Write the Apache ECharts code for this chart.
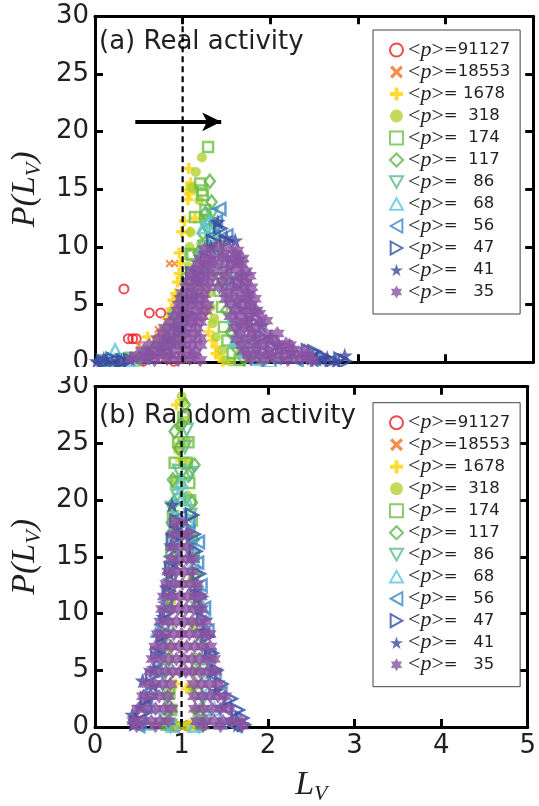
<!DOCTYPE html>
<html>
<head>
<meta charset="utf-8">
<script src="https://cdn.jsdelivr.net/npm/echarts@6/dist/echarts.min.js"></script>
<style>
html,body{margin:0;padding:0;background:#fff;}
#chart{width:539px;height:806px;}
</style>
</head>
<body>
<div id="chart"></div>
<script>
// ---------- legend labels (series names) ----------
const seriesNames = ['=91127', '=18553', '= 1678', '=  318', '=  174', '=  117', '=   86', '=   68', '=   56', '=   47', '=   41', '=   35'];
const panelTitles = ['(a) Real activity', '(b) Random activity'];

// ---------- panel (a): real activity, [L_V, P(L_V)] ----------
const realP91127 = [[0.33,6.36],[0.62,4.28],[0.75,4.28],[0.38,2.05],[0.43,2.05],[0.47,2.05],[0.72,2.05],[0.15,0.05],[0.55,0.1],[0.9,0.1]];
const realP18553 = [[0.85,8.56],[0.91,8.56],[0.72,2.84],[0.50,1.47],[0.66,0.9],[0.3,0.1],[0.82,0.3],[1.02,0.2]];
const realP1678 = [[1.07,16.8],[1.09,15.55],[1.05,14.98],[1.08,14.6],[1.06,14.1],[1.02,12.25],[0.99,11.3],[1.08,11.3],[0.96,9.48],[0.98,8.6],[0.96,7.69],[0.94,6.96],[0.92,5.96],[0.89,5.38],[0.87,4.66],[0.83,3.79],[0.80,3.0],[0.60,2.2],[0.76,2.3],[0.70,1.3],[0.50,0.5],[0.3,0.2],
  [1.14,12.5],[1.18,9.5],[1.22,6.5],[1.26,4.2],[1.30,2.63],[1.34,1.9],[1.38,1.33],[1.38,0.75],[1.42,0.46],[1.46,0.1]];
const realP318 = [[1.22,17.75],[1.15,16.5],[1.1,15.15],[1.13,15.06],[1.19,14.05],[1.09,11.3],[1.21,10.3],[1.08,10.0],[1.07,8.27],[1.02,7.0],[0.98,5.66],[0.87,4.28],[0.82,3.0],[0.72,1.8],[0.55,0.8],[0.35,0.2],
  [1.24,12.5],[1.27,8.5],[1.30,6.0],[1.32,4.8],[1.36,3.79],[1.34,3.36],[1.38,2.2],[1.45,1.04],[1.49,0.17],[1.55,0.05]];
const realP174 = [[1.29,18.67],[1.2,15.5],[1.22,14.9],[1.23,14.5],[1.26,13.2],[1.14,12.6],[1.28,12.3],[1.11,9.28],[1.09,9.4],[1.05,7.2],[1.0,5.5],[0.95,3.5],[0.85,2.0],[0.7,1.0],[0.4,0.4],[0.2,0.1],
  [1.33,10.5],[1.38,8.0],[1.42,6.2],[1.45,4.8],[1.47,3.06],[1.51,1.9],[1.57,0.8],[1.65,0.2]];
const realP117 = [[1.31,15.7],[1.33,13.9],[1.26,12.9],[1.23,11.2],[1.18,9.5],[1.15,8.0],[1.1,6.0],[1.05,4.0],[0.95,2.5],[0.8,1.0],[0.5,0.3],
  [1.36,12.0],[1.4,10.0],[1.45,7.0],[1.5,4.5],[1.55,2.6],[1.62,1.2],[1.7,0.3]];
const realP86 = [[1.33,12.8],[1.28,11.5],[1.25,10.0],[1.18,7.5],[1.1,5.0],[1.0,3.0],[0.85,1.5],[0.6,0.5],[0.3,0.2],[0.1,0.1],
  [1.38,11.8],[1.42,10.0],[1.5,7.0],[1.55,5.0],[1.6,3.0],[1.68,1.5],[1.78,0.5],[1.9,0.1]];
const realP68 = [[1.24,11.7],[1.3,12.2],[1.21,9.57],[1.15,7.8],[1.08,6.0],[0.94,4.36],[0.85,2.78],[0.75,1.6],[0.55,0.6],[0.23,1.04],[0.15,0.2],[0.4,0.15],
  [1.36,11.0],[1.45,9.0],[1.52,6.5],[1.58,4.0],[1.6,1.9],[1.64,2.2],[1.72,1.0],[1.85,0.3],[2.0,0.1]];
const realP56 = [[1.42,13.3],[1.38,12.2],[1.35,11.0],[1.3,9.5],[1.22,7.5],[1.15,5.5],[1.07,3.7],[0.95,2.0],[0.8,1.0],[0.55,0.4],[0.2,0.2],[0.05,0.1],
  [1.5,11.0],[1.55,9.0],[1.6,7.0],[1.66,5.0],[1.72,3.2],[1.8,1.8],[1.9,0.9],[2.05,0.4],[2.3,0.2],[2.5,0.3]];
const realP47 = [[1.43,11.6],[1.35,10.5],[1.28,9.0],[1.2,7.5],[1.11,7.7],[1.12,5.8],[1.05,4.2],[0.97,2.8],[0.85,1.5],[0.65,0.6],[0.4,0.2],[0.1,0.05],[0.2,0.3],[0.32,0.1],
  [1.5,10.5],[1.58,8.5],[1.65,6.8],[1.72,5.0],[1.8,3.5],[1.9,2.2],[2.02,1.3],[2.2,0.7],[2.43,1.04],[2.5,0.95],[2.5,0.4],[2.6,0.5],[2.7,0.15],[2.8,0.3],[2.85,0.1]];
const realP41 = [[1.4,12.17],[1.6,10.58],[1.32,10.0],[1.25,8.5],[1.18,7.0],[1.1,5.5],[1.02,4.0],[0.95,3.0],[0.85,2.0],[0.75,1.2],[0.6,0.6],[0.4,0.3],[0.2,0.1],[0.02,0.1],[0.1,0.3],[0.3,0.1],
  [1.5,10.8],[1.65,9.0],[1.7,7.5],[1.75,6.0],[1.82,4.5],[1.9,3.2],[2.0,2.2],[2.1,1.5],[2.25,0.9],[2.4,0.5],[2.5,0.15],[2.6,0.3],[2.65,0.4],[2.75,0.1],[2.85,0.6]];
const realP35 = [[1.25,9.8],[1.4,10.1],[1.52,9.9],[1.62,9.7],
  [1.3,9.4],[1.46,9.4],[1.6,9.4],
  [1.2,9.0],[1.32,8.9],[1.45,9.1],[1.58,8.9],[1.68,9.0],
  [1.18,8.5],[1.3,8.5],[1.42,8.5],[1.56,8.5],[1.67,8.5],
  [1.12,8.0],[1.24,8.1],[1.36,7.9],[1.5,8.0],[1.62,8.1],[1.72,7.9],
  [1.1,7.5],[1.22,7.5],[1.34,7.5],[1.5,7.5],[1.66,7.5],[1.76,7.5],
  [1.06,7.0],[1.18,7.1],[1.3,6.9],[1.45,7.0],[1.6,7.1],[1.72,6.9],
  [1.04,6.5],[1.16,6.5],[1.28,6.5],[1.42,6.5],[1.56,6.5],[1.68,6.5],[1.78,6.5],
  [1.0,6.0],[1.12,6.1],[1.24,5.9],[1.5,6.0],[1.62,6.1],[1.75,5.9],
  [0.98,5.5],[1.1,5.5],[1.22,5.5],[1.5,5.5],[1.62,5.5],[1.72,5.5],[1.82,5.5],
  [0.96,5.0],[1.06,5.1],[1.18,4.9],[1.28,5.0],[1.55,5.1],[1.67,4.9],[1.78,5.0],
  [0.94,4.5],[1.04,4.5],[1.16,4.5],[1.26,4.5],[1.6,4.5],[1.72,4.5],[1.84,4.5],
  [0.9,4.0],[1.0,4.1],[1.12,3.9],[1.22,4.0],[1.55,4.0],[1.66,4.1],[1.76,3.9],[1.87,4.2],
  [0.86,3.5],[0.98,3.5],[1.1,3.5],[1.2,3.5],[1.62,3.5],[1.74,3.5],[1.88,3.5],
  [0.8,3.0],[0.92,3.1],[1.04,2.9],[1.16,3.0],[1.6,3.0],[1.7,3.1],[1.82,2.9],[1.95,3.6],
  [0.78,2.5],[0.9,2.5],[1.02,2.5],[1.14,2.5],[1.66,2.5],[1.8,2.5],[1.95,2.5],[2.08,2.5],
  [0.72,2.0],[0.84,2.1],[0.96,1.9],[1.08,2.0],[1.2,2.1],[1.62,2.0],[1.75,2.1],[1.88,1.9],[2.02,2.0],[2.18,1.6],
  [0.62,1.5],[0.74,1.5],[0.86,1.5],[0.98,1.5],[1.1,1.5],[1.2,1.5],[1.68,1.5],[1.8,1.5],[1.94,1.5],[2.08,1.5],[2.22,1.5],
  [0.55,1.0],[0.66,1.1],[0.78,0.9],[0.9,1.0],[1.02,1.1],[1.14,0.9],[1.7,1.0],[1.84,1.1],[1.98,0.9],[2.12,1.0],[2.26,1.1],[2.39,1.0],
  [0.48,0.6],[0.6,0.6],[0.72,0.6],[0.86,0.6],[1.0,0.6],[1.12,0.6],[1.75,0.6],[1.88,0.6],[2.02,0.6],[2.16,0.6],[2.3,0.6],[2.44,0.6],
  [0.42,0.3],[0.55,0.3],[0.68,0.2],[0.82,0.3],[0.95,0.2],[1.08,0.3],[1.2,0.2],[1.78,0.3],[1.92,0.2],[2.06,0.3],[2.2,0.2],[2.34,0.3],[2.48,0.2]];

// ---------- panel (b): random activity, [L_V, P(L_V)] ----------
const randP91127 = [[0.89,18.0],[0.91,0.1],[0.95,0.05],[1.06,0.1]];
const randP18553 = [[0.93,0.1],[1.08,0.05]];
const randP1678 = [[0.94,28.4],[0.97,25.0],[0.99,23.5],[0.93,0.2],[0.88,0.1],[1.08,0.2],[1.12,0.1],[1.15,0.25],[0.93,3.8],[1.1,3.6],[1.06,3.4]];
const randP318 = [[1.0,29.15],[1.02,28.6],[1.04,27.0],[0.98,26.5],[1.05,25.2],[0.96,24.4],[1.06,23.4],[0.94,21.8],[1.07,20.4],[0.92,18.5],[1.1,17.0],[0.9,15.0],[1.12,13.0],[0.88,11.0],[1.14,9.0],[0.86,7.0],[1.15,5.0],[0.87,3.0],[1.13,3.4],[0.89,1.5],[1.16,1.5],[0.85,0.3],[1.18,0.3],[0.95,0.1],[1.05,0.1]];
const randP174 = [[0.96,25.1],[1.08,25.1],[0.92,23.3],[1.06,23.3],[0.94,21.6],[1.09,21.5],[0.98,20.1],[1.1,20.0],[1.02,27.3],[0.9,18.6],[1.12,18.2],[0.88,15.5],[1.14,15.0],[0.86,12.0],[1.16,12.0],[0.84,9.0],[1.18,9.0],[0.83,6.0],[1.2,6.0],[0.86,3.0],[1.18,3.0],[0.88,1.5],[1.2,1.2],[0.83,0.2],[1.22,0.2]];
const randP117 = [[0.92,26.06],[1.15,23.1],[1.04,28.4],[1.0,26.7],[0.97,24.6],[1.08,22.2],[0.9,21.8],[1.12,19.8],[0.91,19.8],[0.88,17.0],[1.14,16.5],[0.86,13.5],[1.16,13.5],[0.84,10.5],[1.2,10.5],[0.82,7.5],[1.22,7.5],[0.84,4.5],[1.2,4.5],[0.86,1.8],[1.22,1.5],[0.82,0.3],[1.25,0.3]];
const randP86 = [[1.04,24.7],[0.89,19.3],[1.06,26.2],[0.97,22.6],[1.1,22.4],[0.95,20.4],[1.1,18.7],[0.9,17.5],[1.12,16.0],[0.87,14.0],[1.15,13.0],[0.85,11.0],[1.18,10.5],[0.82,8.0],[1.22,8.0],[0.8,5.0],[1.24,5.0],[0.83,2.5],[1.25,2.5],[0.82,0.6],[1.28,0.5],[0.87,0.1],[1.2,0.1]];
const randP68 = [[1.0,21.6],[0.96,20.3],[1.05,20.1],[0.93,18.5],[1.08,18.2],[0.9,16.5],[1.12,16.0],[1.15,14.5],[0.87,14.2],[0.84,12.0],[1.2,12.0],[1.26,10.25],[0.8,10.0],[0.72,8.5],[1.28,8.5],[0.75,6.8],[1.3,6.5],[0.7,5.0],[1.35,4.8],[0.74,3.4],[1.3,3.0],[0.65,1.8],[1.38,1.6],[0.6,0.3],[1.45,0.4],[0.9,0.1],[1.15,0.1]];
const randP56 = [[0.98,18.5],[1.08,18.0],[0.92,17.0],[1.19,16.3],[0.88,15.0],[1.18,14.5],[0.86,13.0],[1.22,12.5],[0.82,11.0],[1.26,10.5],[0.78,9.0],[1.3,8.5],[0.74,7.0],[1.32,6.25],[0.7,5.0],[1.38,4.5],[0.64,3.2],[1.45,3.0],[0.58,1.8],[1.5,1.7],[0.52,0.6],[1.58,0.6],[0.5,0.1],[1.62,0.1]];
const randP47 = [[1.12,18.7],[0.94,18.2],[1.14,17.0],[0.9,16.5],[1.16,15.5],[0.88,14.0],[1.2,13.5],[0.85,12.0],[1.22,11.5],[0.82,10.0],[1.25,9.5],[1.3,8.0],[0.78,8.0],[1.35,6.5],[0.72,6.5],[1.4,5.0],[0.66,4.5],[1.46,3.8],[1.57,2.5],[0.6,2.5],[1.65,1.5],[0.55,1.2],[1.7,0.8],[0.48,0.3],[1.72,0.2]];
const randP41 = [[0.89,19.6],[0.83,12.3],[0.79,9.7],[0.67,3.67],[0.55,4.1],[0.46,0.8],[0.43,1.1],[0.95,17.5],[1.05,17.0],[0.88,16.0],[0.92,14.5],[1.1,15.0],[0.86,13.5],[1.15,12.0],[1.2,10.5],[0.76,8.0],[1.25,8.5],[0.72,6.5],[1.3,6.8],[0.68,5.2],[1.35,5.0],[0.6,2.5],[1.4,3.2],[0.52,1.8],[1.48,1.8],[0.45,0.3],[1.58,0.6],[1.65,0.2]];
const randP35 = [[0.93,18.1],[1.01,18.1],
  [0.91,17.0],[1.0,17.0],[1.07,17.0],
  [0.89,15.9],[0.98,15.9],[1.07,15.9],
  [0.88,14.8],[0.97,14.8],[1.06,14.8],[1.13,14.8],
  [0.85,13.7],[0.94,13.7],[1.03,13.7],[1.12,13.7],
  [0.83,12.6],[0.92,12.6],[1.01,12.6],[1.1,12.6],[1.18,12.6],
  [0.8,11.5],[0.89,11.5],[0.98,11.5],[1.07,11.5],[1.16,11.5],[1.22,11.5],
  [0.78,10.4],[0.87,10.4],[0.96,10.4],[1.05,10.4],[1.14,10.4],[1.23,10.4],
  [0.76,9.3],[0.85,9.3],[0.94,9.3],[1.03,9.3],[1.12,9.3],[1.21,9.3],[1.28,9.3],
  [0.73,8.2],[0.82,8.2],[0.91,8.2],[1.0,8.2],[1.09,8.2],[1.18,8.2],[1.27,8.2],[1.32,8.2],
  [0.7,7.1],[0.79,7.1],[0.88,7.1],[0.97,7.1],[1.06,7.1],[1.15,7.1],[1.24,7.1],[1.33,7.1],
  [0.67,6.0],[0.76,6.0],[0.85,6.0],[0.94,6.0],[1.03,6.0],[1.12,6.0],[1.21,6.0],[1.3,6.0],[1.37,6.0],
  [0.64,4.9],[0.73,4.9],[0.82,4.9],[0.9,4.9],[0.98,4.9],[1.05,4.9],[1.12,4.9],[1.21,4.9],[1.3,4.9],[1.39,4.9],
  [0.6,3.8],[0.69,3.8],[0.78,3.8],[0.87,3.8],[1.14,3.8],[1.23,3.8],[1.32,3.8],[1.42,3.8],
  [0.56,2.7],[0.65,2.7],[0.74,2.7],[0.84,2.7],[1.15,2.7],[1.24,2.7],[1.33,2.7],[1.42,2.7],[1.5,2.7],
  [0.5,1.6],[0.6,1.6],[0.7,1.6],[0.8,1.6],[0.88,1.6],[1.16,1.6],[1.25,1.6],[1.35,1.6],[1.45,1.6],[1.55,1.6],
  [0.45,0.5],[0.55,0.5],[0.65,0.5],[0.75,0.5],[0.85,0.5],[1.18,0.5],[1.28,0.5],[1.38,0.5],[1.48,0.5],[1.58,0.5],[1.68,0.5],
  [0.48,0.1],[0.7,0.1],[1.25,0.1],[1.45,0.1],[1.7,0.1]];

const realData = [realP91127, realP18553, realP1678, realP318, realP174, realP117, realP86, realP68, realP56, realP47, realP41, realP35];
const randData = [randP91127, randP18553, randP1678, randP318, randP174, randP117, randP86, randP68, randP56, randP47, randP41, randP35];

// dashed reference line and arrow (in data units)
const refLineX = [[1, 0], [1, 30]];
const arrowFrom = [0.46, 20.85];
const arrowTo = [1.44, 20.85];

// ---------- marker styles ----------
const PLUS = 'path://M3.5,0H6.5V3.5H10V6.5H6.5V10H3.5V6.5H0V3.5H3.5Z';
const CROSS = 'path://M1.8,0L5,3.2L8.2,0L10,1.8L6.8,5L10,8.2L8.2,10L5,6.8L1.8,10L0,8.2L3.2,5L0,1.8Z';
const TRI_UP = 'path://M5,0L10,9L0,9Z';
const TRI_DOWN = 'path://M0,0L10,0L5,9Z';
const TRI_LEFT = 'path://M0,5L9,0L9,10Z';
const TRI_RIGHT = 'path://M0,0L9,5L0,10Z';
const STAR5 = 'path://M10,0L12.25,6.91L19.51,6.91L13.63,11.18L15.88,18.09L10,13.82L4.12,18.09L6.37,11.18L0.49,6.91L7.75,6.91Z';
const HEX = 'path://M10,0L12.89,5L18.66,5L15.77,10L18.66,15L12.89,15L10,20L7.11,15L1.34,15L4.23,10L1.34,5L7.11,5Z';
const styleDefs = [
  {symbol: 'circle', size: 9, hollow: true, bw: 2, color: '#ec1c24'},
  {symbol: CROSS, size: 8, color: '#f37021'},
  {symbol: PLUS, size: 11, color: '#ffd200'},
  {symbol: 'circle', size: 10, color: '#b3d235'},
  {symbol: 'rect', size: 10, hollow: true, bw: 2.5, color: '#6fbf44'},
  {symbol: 'diamond', size: [10, 13], hollow: true, bw: 2.5, color: '#5cb547'},
  {symbol: TRI_DOWN, size: 12, hollow: true, bw: 2.5, color: '#5ab98a'},
  {symbol: TRI_UP, size: 12, hollow: true, bw: 2.5, color: '#5cc6dc'},
  {symbol: TRI_LEFT, size: 12, hollow: true, bw: 2.5, color: '#3b86c6'},
  {symbol: TRI_RIGHT, size: 12, hollow: true, bw: 2.5, color: '#2f4f9f'},
  {symbol: STAR5, size: 16, color: '#3f4aa0'},
  {symbol: HEX, size: 15, color: '#8b52a1'}
];

const TXT = '#231f20';
function mkScatter(name, data, st, xi, yi) {
  return {
    type: 'scatter', name: name, data: data,
    xAxisIndex: xi, yAxisIndex: yi,
    symbol: st.symbol, symbolSize: st.size,
    itemStyle: st.hollow ? {color: 'rgba(255,255,255,0)', borderColor: st.color, borderWidth: st.bw}
                         : {color: st.color, borderWidth: 0},
    emphasis: {disabled: true}, silent: true, z: 2
  };
}

const axisCommon = {
  type: 'value',
  axisLine: {show: true, onZero: false, lineStyle: {color: '#000', width: 3}},
  axisTick: {show: true, inside: true, length: 8, lineStyle: {color: '#000', width: 3}},
  splitLine: {show: false},
  axisLabel: {show: false}
};
const labelStyle = {show: true, fontSize: 26, fontFamily: 'DejaVu Sans', color: TXT, margin: 6};
const nameRich = {
  m: {fontFamily: 'Liberation Serif', fontStyle: 'italic', fontSize: 34, color: TXT, lineHeight: 40},
  s: {fontFamily: 'Liberation Serif', fontStyle: 'italic', fontSize: 22, color: TXT, lineHeight: 18, verticalAlign: 'bottom'}
};

const grids = [
  {left: 91.7, top: 16.3, width: 441.5, height: 346},
  {left: 91.7, top: 386.7, width: 441.5, height: 349.3}
];

const xAxes = [], yAxes = [];
for (let g = 0; g < 2; g++) {
  xAxes.push(Object.assign({}, axisCommon, {gridIndex: g, position: 'bottom', min: 0, max: 5, interval: 1,
    axisLabel: g === 1 ? labelStyle : {show: false},
    name: g === 1 ? '{m|L}{s|V}' : '', nameLocation: 'middle', nameGap: 38,
    nameTextStyle: {rich: nameRich}}));
  xAxes.push(Object.assign({}, axisCommon, {gridIndex: g, position: 'top', min: 0, max: 5, interval: 1}));
  yAxes.push(Object.assign({}, axisCommon, {gridIndex: g, position: 'left', min: 0, max: 30, interval: 5,
    axisLabel: labelStyle,
    name: '{m|P(L}{s|V}{m|)}', nameLocation: 'middle', nameGap: 50,
    nameTextStyle: {rich: nameRich}}));
  yAxes.push(Object.assign({}, axisCommon, {gridIndex: g, position: 'right', min: 0, max: 30, interval: 5}));
}

const series = [];
const panels = [realData, randData];
panels.forEach(function (pd, g) {
  pd.forEach(function (d, i) {
    series.push(mkScatter(seriesNames[i], d, styleDefs[i], g * 2, g * 2));
  });
  const guide = {
    type: 'line', name: 'ref' + g, data: refLineX, xAxisIndex: g * 2, yAxisIndex: g * 2,
    symbol: 'none', silent: true, z: 5,
    lineStyle: {color: '#000', width: 2.2, type: [6, 4]}
  };
  if (g === 0) {
    guide.markLine = {
      silent: true, animation: false,
      symbol: ['none', 'arrow'], symbolSize: [14, 19],
      lineStyle: {color: '#000', width: 4, type: 'solid'},
      label: {show: false},
      data: [[{coord: arrowFrom}, {coord: arrowTo}]]
    };
  }
  series.push(guide);
});

const legendRich = {
  a: {fontFamily: 'Liberation Serif', fontSize: 22, color: TXT, lineHeight: 21.3},
  p: {fontFamily: 'Liberation Serif', fontStyle: 'italic', fontSize: 22, color: TXT, lineHeight: 21.3},
  b: {fontFamily: 'DejaVu Sans', fontSize: 16.5, color: TXT, lineHeight: 21.3}
};
function mkLegend(top) {
  return {
    orient: 'vertical', left: 373, top: top, data: seriesNames,
    itemWidth: 13, itemHeight: 13, itemGap: 0,
    padding: [9, 10, 11, 16],
    borderColor: '#444', borderWidth: 1, backgroundColor: '#fff',
    selectedMode: false,
    formatter: function (n) { return '{a|<}{p|p}{a|>}{b|' + n + '}'; },
    textStyle: {rich: legendRich, lineHeight: 21.3}
  };
}

const option = {
  animation: false,
  backgroundColor: '#fff',
  grid: grids,
  xAxis: xAxes,
  yAxis: yAxes,
  title: [
    {text: panelTitles[0], left: 99, top: 29, padding: 0, z: 1, textStyle: {fontFamily: 'DejaVu Sans', fontSize: 26, fontWeight: 'normal', color: TXT}},
    {text: panelTitles[1], left: 99, top: 403, padding: 0, z: 1, textStyle: {fontFamily: 'DejaVu Sans', fontSize: 26, fontWeight: 'normal', color: TXT}}
  ],
  legend: [mkLegend(30), mkLegend(402.7)],
  graphic: [
    {type: 'rect', shape: {x: 0, y: 367, width: 539, height: 9}, style: {fill: '#fff'}, z: 50, silent: true}
  ],
  series: series
};

const chart = echarts.init(document.getElementById('chart'), null, {renderer: 'canvas'});
chart.setOption(option);
</script>
</body>
</html>
